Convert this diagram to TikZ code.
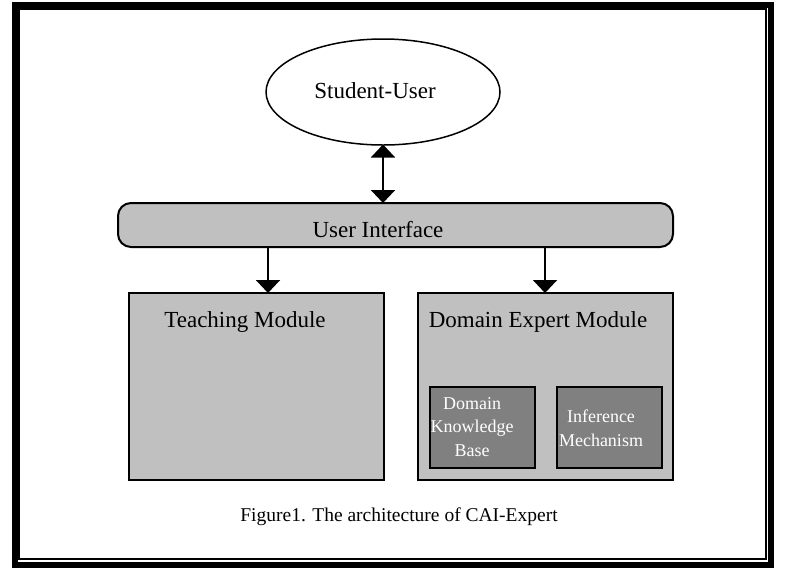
\documentclass[tikz,border=0pt]{standalone}
\usepackage{fontspec}
\setmainfont{Liberation Serif}
\usetikzlibrary{arrows.meta,shapes.geometric}
\definecolor{lgray}{HTML}{C0C0C0}
\definecolor{dgray}{HTML}{808080}
\tikzset{
  box/.style={draw=black,line width=2pt,fill=lgray},
  inbox/.style={draw=black,line width=2pt,fill=dgray},
  lbl/.style={inner sep=0pt,font=\fontsize{23}{27}\selectfont},
  wlbl/.style={inner sep=0pt,text=white,align=center,font=\fontsize{18}{23.5}\selectfont},
  arr/.style={line width=2pt,-{Triangle[width=24pt,length=13pt]}},
  darr/.style={line width=2pt,{Triangle[width=24pt,length=13pt]}-{Triangle[width=24pt,length=13pt]}}
}
\begin{document}
\begin{tikzpicture}[x=1pt,y=-1pt]
\useasboundingbox (0,0) rectangle (799,571);
\fill[white] (0,0) rectangle (799,571);
% frame
\draw[line width=6pt] (15,5) rectangle (771,565);
\draw[line width=2pt] (18.5,8.5) rectangle (766,559);
% ellipse
\node[draw=black,line width=1.5pt,ellipse,minimum width=234pt,minimum height=106pt,inner sep=0pt] (su) at (383,92) {};
\node[lbl] (sut) at (375,91) {Student-User};
% user interface
\draw[box,rounded corners=13pt] (118,203) rectangle (673,247);
\coordinate (uitop) at (383,203);
\coordinate (uil) at (268,247);
\coordinate (uir) at (545,247);
\node[lbl] (uit) at (378,230) {User Interface};
% modules
\draw[box] (129,293) rectangle (384,480);
\draw[box] (418,293) rectangle (673,480);
\coordinate (tmtop) at (268,293);
\coordinate (dmtop) at (545,293);
\node[lbl] (tmt) at (245,322) {Teaching Module};
\node[lbl] (dmt) at (538,322) {Domain Expert Module};
% inner boxes
\draw[inbox] (430,387) rectangle (535,468);
\draw[inbox] (557,387) rectangle (662,468);
\node[wlbl] (dkb) at (472,427) {Domain\\Knowledge\\Base};
\node[wlbl] (im) at (601,428) {Inference\\Mechanism};
% arrows
\coordinate (sub) at (383,144.5);
\draw[darr] (sub) -- (uitop);
\draw[arr] (uil) -- (tmtop);
\draw[arr] (uir) -- (dmtop);
% caption
\node[inner sep=0pt,font=\fontsize{19.5}{23}\selectfont] (cap) at (399,517) {Figure1. The architecture of CAI-Expert};
\end{tikzpicture}
\end{document}
